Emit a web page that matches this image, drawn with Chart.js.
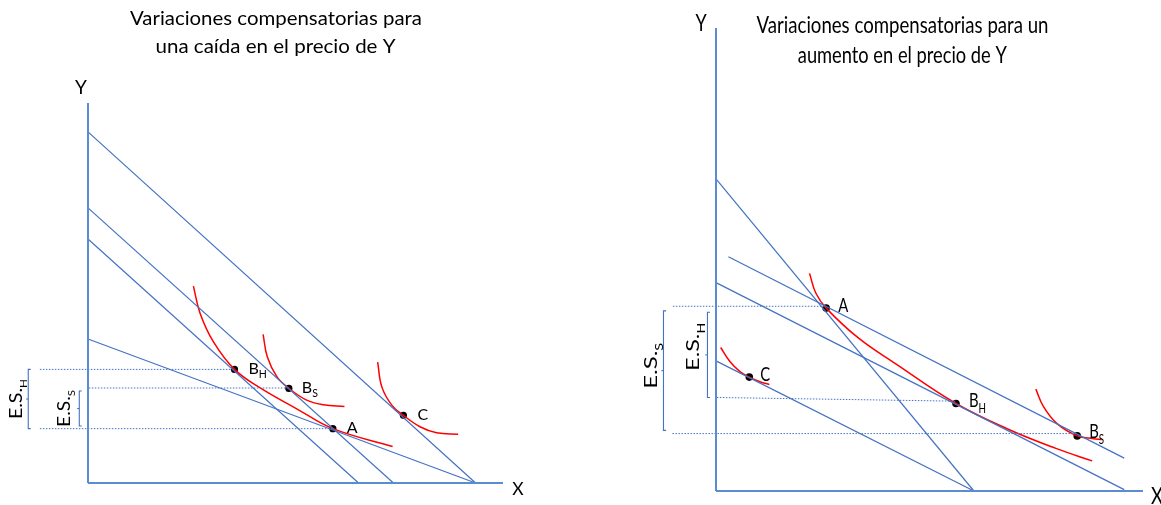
<!DOCTYPE html>
<html><head><meta charset="utf-8">
<script src="https://cdn.jsdelivr.net/npm/chart.js@4/dist/chart.umd.min.js"></script>
<style>
html,body{margin:0;padding:0;background:#fff;overflow:hidden}
#wrap{position:relative;width:1161px;height:505px;background:#fff}
canvas{position:absolute;top:0}
#c1{left:0}
#c2{left:580px}
</style></head><body>
<div id="wrap"><canvas id="c1" width="580" height="505"></canvas><canvas id="c2" width="581" height="505"></canvas></div>
<script>
// ================= DATA: left panel (caída en el precio de Y) =================
const leftTitleLines = ['Variaciones compensatorias para', 'una caída en el precio de Y'];
const leftBudget1 = [[0, 92.4], [93.4, 0]];
const leftBudget2 = [[0, 72.4], [73.6, 0]];
const leftBudget3 = [[0, 64.2], [65.2, 0]];
const leftBudget4 = [[0, 37.9], [93.4, 0]];
const leftCurveA = [[25.4, 51.8], [27.0, 44.7], [30.2, 37.2], [35.3, 29.9], [41.4, 25.1], [50.5, 19.4], [59.0, 14.3], [73.4, 9.6]];
const leftCurveS = [[42.2, 39.1], [43.2, 33.2], [45.5, 28.0], [48.4, 24.9], [52.7, 21.8], [56.7, 20.6], [61.8, 20.1]];
const leftCurveC = [[69.8, 31.8], [70.8, 25.3], [73.2, 20.5], [76.0, 17.8], [80.0, 14.8], [84.0, 13.2], [89.2, 12.8]];
const leftPointX = [35.3, 48.4, 59.0, 76.0];
const leftPointY = [29.9, 24.9, 14.3, 17.8];
const leftPointName = ['B', 'B', 'A', 'C'];
const leftPointSub = ['H', 'S', '', ''];
const leftGuideStartX = [-11.6, 0.2, -11.6];
const leftGuideEndX = [35.3, 48.4, 59.0];
const leftGuideY = [29.9, 25.0, 14.3];
const leftBracketName = ['E.S.', 'E.S.'];
const leftBracketSub = ['H', 'S'];
const leftBracketX = [-14.4, -2.1];
const leftBracketTop = [29.9, 24.2];
const leftBracketBottom = [14.3, 15.0];

// ================= DATA: right panel (aumento en el precio de Y) =================
const rightTitleLines = ['Variaciones compensatorias para un', 'aumento en el precio de Y'];
const rightBudget1 = [[0, 67.4], [60.4, 0]];
const rightBudget2 = [[2.9, 50.6], [95.6, 7.1]];
const rightBudget3 = [[0, 45.0], [95.6, 0.3]];
const rightBudget4 = [[0, 28.1], [60.4, 0]];
const rightCurveA = [[21.9, 47.0], [23.4, 42.7], [25.8, 39.5], [33.4, 33.0], [42.2, 27.4], [56.2, 18.9], [68.3, 13.4], [79.6, 9.2], [88.1, 6.5]];
const rightCurveC = [[1.1, 31.0], [3.3, 27.9], [5.6, 25.8], [7.8, 24.6], [10.3, 23.6], [12.5, 23.0]];
const rightCurveS = [[74.9, 22.0], [76.7, 18.2], [79.8, 14.6], [84.6, 11.9], [88.4, 11.3], [90.3, 11.1]];
const rightPointX = [25.8, 7.8, 56.2, 84.6];
const rightPointY = [39.5, 24.6, 18.9, 11.9];
const rightPointName = ['A', 'C', 'B', 'B'];
const rightPointSub = ['', '', 'H', 'S'];
const rightGuideStartX = [-10.1, 0.2, -10.2];
const rightGuideStartY = [39.9, 20.2, 12.4];
const rightGuideEndX = [25.8, 56.2, 84.6];
const rightGuideEndY = [39.9, 19.4, 12.4];
const rightBracketName = ['E.S.', 'E.S.'];
const rightBracketSub = ['S', 'H'];
const rightBracketX = [-12.3, -2.0];
const rightBracketTop = [38.9, 38.6];
const rightBracketBottom = [13.1, 20.2];

const axisLabels = ['Y', 'X'];

// ================= STYLE / LAYOUT =================
const FONT = 'Lato, "Open Sans", "DejaVu Sans", sans-serif';
const BLUE = '#4472C4';
const AXIS = '#5B8CD2';
const RED = '#FF0000';
const TICK = 0.6;
const MIDTICK = 0.5;

const toPts = a => a.map(([x, y]) => ({x, y}));

function lineDs(data, color, width, extra) {
  return Object.assign({data, showLine: true, borderColor: color, borderWidth: width,
    pointRadius: 0, pointHoverRadius: 0, fill: false, clip: false, tension: 0}, extra || {});
}
function curveDs(arr) { return lineDs(toPts(arr), RED, 1.5, {tension: 0.4}); }
function pointsDs(xs, ys, r) {
  return {data: xs.map((x, i) => ({x, y: ys[i]})), showLine: false, pointRadius: r, pointHoverRadius: r,
    pointBackgroundColor: '#000', pointBorderColor: '#000', pointBorderWidth: 0, clip: false};
}
function bracketDs(x, top, bottom) {
  const mid = (top + bottom) / 2;
  return [
    lineDs([{x: x + TICK, y: top}, {x, y: top}, {x, y: bottom}, {x: x + TICK, y: bottom}], BLUE, 1.1),
    lineDs([{x, y: mid}, {x: x - MIDTICK, y: mid}], BLUE, 1.1)
  ];
}

function richText(ctx, parts, cx, cy, o) {
  ctx.save();
  ctx.translate(cx, cy);
  if (o.rot) ctx.rotate(o.rot);
  const subSize = o.size * (o.subRatio || 0.62);
  const ws = parts.map(p => { ctx.font = (p.sub ? subSize : o.size) + 'px ' + FONT; return ctx.measureText(p.t).width; });
  const total = ws.reduce((a, b) => a + b, 0);
  const sx = o.width ? o.width / total : (o.sx || 1);
  ctx.scale(sx, 1);
  let x = o.align === 'center' ? -total / 2 : 0;
  const base = o.vcenter ? o.size * 0.36 : 0;
  ctx.fillStyle = '#000';
  ctx.textAlign = 'left';
  ctx.textBaseline = 'alphabetic';
  parts.forEach((p, i) => {
    ctx.font = (p.sub ? subSize : o.size) + 'px ' + FONT;
    ctx.fillText(p.t, x, base + (p.sub ? o.size * (o.subShift || 0.22) : 0));
    x += ws[i];
  });
  ctx.restore();
}

function makeChart(id, pad, datasets, drawTexts) {
  return new Chart(document.getElementById(id), {
    type: 'scatter',
    data: {datasets},
    options: {
      responsive: false, animation: false, events: [],
      layout: {padding: pad},
      scales: {
        x: {type: 'linear', min: 0, max: 100, display: false},
        y: {type: 'linear', min: 0, max: 100, display: false}
      },
      plugins: {legend: {display: false}, tooltip: {enabled: false}}
    },
    plugins: [{id: 'texts', afterDatasetsDraw(chart) { drawTexts(chart); }}]
  });
}

// ---------- left chart ----------
const leftDatasets = [
  lineDs([{x: 0, y: 0}, {x: 0, y: 100}], AXIS, 2),
  lineDs([{x: 0, y: 0}, {x: 100, y: 0}], AXIS, 2),
  lineDs(toPts(leftBudget1), BLUE, 1.2),
  lineDs(toPts(leftBudget2), BLUE, 1.2),
  lineDs(toPts(leftBudget3), BLUE, 1.2),
  lineDs(toPts(leftBudget4), BLUE, 1.2),
  ...leftGuideY.map((y, i) => lineDs([{x: leftGuideStartX[i], y}, {x: leftGuideEndX[i], y}], BLUE, 1, {borderDash: [1.5, 1.5]})),
  ...leftBracketX.flatMap((x, i) => bracketDs(x, leftBracketTop[i], leftBracketBottom[i])),
  curveDs(leftCurveA), curveDs(leftCurveS), curveDs(leftCurveC),
  pointsDs(leftPointX, leftPointY, 3.6)
];
const leftLabelOffset = [[14, 5], [13, 5], [14, 4], [14, 5]];
const leftBracketLabelOffset = [[-12.6, 0], [-15.3, 0]];
const leftBracketLabelLen = [40, 37];

makeChart('c1', {left: 88, right: 77, top: 103, bottom: 22}, leftDatasets, chart => {
  const ctx = chart.ctx, px = v => chart.scales.x.getPixelForValue(v), py = v => chart.scales.y.getPixelForValue(v);
  richText(ctx, [{t: leftTitleLines[0]}], 276, 25, {size: 18.5, align: 'center', width: 292});
  richText(ctx, [{t: leftTitleLines[1]}], 275.5, 52.5, {size: 18.5, align: 'center', width: 240});
  richText(ctx, [{t: axisLabels[0]}], px(0) - 7, py(100) - 9, {size: 19, align: 'center'});
  richText(ctx, [{t: axisLabels[1]}], px(100) + 15, py(0) + 12, {size: 17.5, align: 'center'});
  leftPointName.forEach((n, i) => {
    const parts = [{t: n}]; if (leftPointSub[i]) parts.push({t: leftPointSub[i], sub: true});
    richText(ctx, parts, px(leftPointX[i]) + leftLabelOffset[i][0], py(leftPointY[i]) + leftLabelOffset[i][1], {size: 16, subRatio: 0.66, subShift: 0.2});
  });
  leftBracketName.forEach((n, i) => {
    const mid = (leftBracketTop[i] + leftBracketBottom[i]) / 2;
    richText(ctx, [{t: n}, {t: leftBracketSub[i], sub: true}], px(leftBracketX[i]) + leftBracketLabelOffset[i][0], py(mid) + leftBracketLabelOffset[i][1],
      {size: 17, align: 'center', vcenter: true, rot: -Math.PI / 2, width: leftBracketLabelLen[i], subRatio: 0.6, subShift: 0.3});
  });
});

// ---------- right chart ----------
const rightDatasets = [
  lineDs([{x: 0, y: 0}, {x: 0, y: 100}], AXIS, 2),
  lineDs([{x: 0, y: 0}, {x: 100, y: 0}], AXIS, 2),
  lineDs(toPts(rightBudget1), BLUE, 1.2),
  lineDs(toPts(rightBudget2), BLUE, 1.2),
  lineDs(toPts(rightBudget3), BLUE, 1.2),
  lineDs(toPts(rightBudget4), BLUE, 1.2),
  ...rightGuideStartX.map((x, i) => lineDs([{x, y: rightGuideStartY[i]}, {x: rightGuideEndX[i], y: rightGuideEndY[i]}], BLUE, 1, {borderDash: [1.5, 1.5]})),
  ...rightBracketX.flatMap((x, i) => bracketDs(x, rightBracketTop[i], rightBracketBottom[i])),
  curveDs(rightCurveA), curveDs(rightCurveC), curveDs(rightCurveS),
  pointsDs(rightPointX, rightPointY, 3.8)
];
const rightLabelOffset = [[12, 4], [11, 4], [13, 4], [12, 2.5]];
const rightBracketLabelOffset = [[-12.5, -4.8], [-14.3, -8]];
const rightBracketLabelLen = [46, 48];

makeChart('c2', {left: 136, right: 18, top: 28, bottom: 14}, rightDatasets, chart => {
  const ctx = chart.ctx, px = v => chart.scales.x.getPixelForValue(v), py = v => chart.scales.y.getPixelForValue(v);
  richText(ctx, [{t: rightTitleLines[0]}], 322.5, 33.3, {size: 23, align: 'center', width: 292});
  richText(ctx, [{t: rightTitleLines[1]}], 322.3, 63.3, {size: 23, align: 'center', width: 209});
  richText(ctx, [{t: axisLabels[0]}], px(0) - 15, py(100) + 3, {size: 23, align: 'center', sx: 0.78});
  richText(ctx, [{t: axisLabels[1]}], px(100) + 14, py(0) + 13, {size: 23, align: 'center', sx: 0.8});
  rightPointName.forEach((n, i) => {
    const parts = [{t: n}]; if (rightPointSub[i]) parts.push({t: rightPointSub[i], sub: true});
    richText(ctx, parts, px(rightPointX[i]) + rightLabelOffset[i][0], py(rightPointY[i]) + rightLabelOffset[i][1], {size: 19, sx: 0.78, subRatio: 0.66, subShift: 0.3});
  });
  rightBracketName.forEach((n, i) => {
    const mid = (rightBracketTop[i] + rightBracketBottom[i]) / 2;
    richText(ctx, [{t: n}, {t: rightBracketSub[i], sub: true}], px(rightBracketX[i]) + rightBracketLabelOffset[i][0], py(mid) + rightBracketLabelOffset[i][1],
      {size: 17.5, align: 'center', vcenter: true, rot: -Math.PI / 2, width: rightBracketLabelLen[i], subRatio: 0.6, subShift: 0.3});
  });
});
</script>
</body></html>
